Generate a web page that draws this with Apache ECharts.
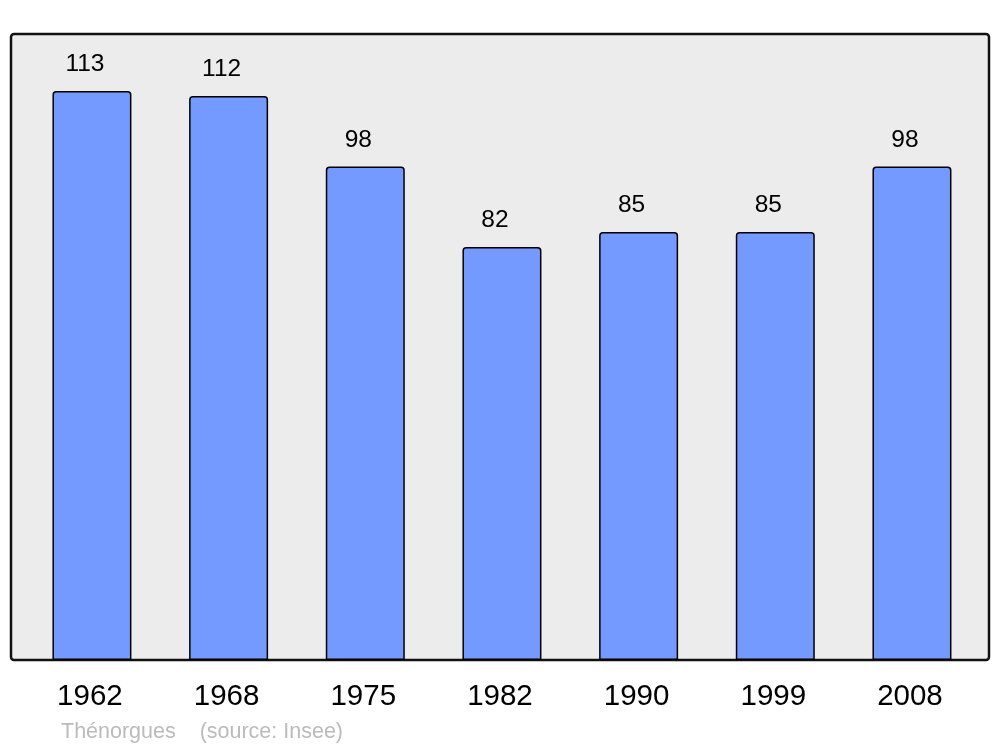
<!DOCTYPE html>
<html>
<head>
<meta charset="utf-8">
<script src="https://cdn.jsdelivr.net/npm/echarts@6/dist/echarts.min.js"></script>
<style>html,body{margin:0;padding:0;background:#fff;}#c{width:1000px;height:747px;}</style>
</head>
<body>
<div id="c"></div>
<script>
const categories = ['1962', '1968', '1975', '1982', '1990', '1999', '2008'];
const population = [113, 112, 98, 82, 85, 85, 98];
const footerText = 'Thénorgues    (source: Insee)';

const chart = echarts.init(document.getElementById('c'), null, {renderer: 'canvas'});
chart.setOption({
  animation: false,
  backgroundColor: '#ffffff',
  graphic: [{
    type: 'rect',
    z: -10,
    shape: {x: 11, y: 34, width: 978, height: 626, r: 3},
    style: {fill: '#ececec', stroke: '#111111', lineWidth: 2.5}
  }, {
    type: 'text',
    left: 61, top: 721,
    style: {text: footerText, fill: '#bbbbbb', font: '21.5px "Liberation Sans", Arial, sans-serif'}
  }],
  grid: {left: 23.6, top: 34, width: 956.7, height: 626},
  xAxis: {
    type: 'category',
    data: categories,
    axisLine: {show: false},
    axisTick: {show: false},
    axisLabel: {
      margin: 22,
      color: '#000',
      fontSize: 29.5,
      padding: [0, 4, 0, 0],
      fontFamily: '"Liberation Sans", Arial, sans-serif'
    }
  },
  yAxis: {
    type: 'value',
    min: 0, max: 124.3,
    show: false,
    splitLine: {show: false}
  },
  series: [{
    type: 'bar',
    data: population,
    barWidth: 79,
    itemStyle: {color: '#7499ff', borderColor: '#000', borderWidth: 1.5, borderRadius: [3, 3, 0, 0]},
    label: {
      show: true,
      position: 'top',
      distance: 14,
      offset: [-7, 0],
      color: '#000',
      fontSize: 24.5,
      fontFamily: '"Liberation Sans", Arial, sans-serif'
    }
  }]
});
</script>
</body>
</html>
